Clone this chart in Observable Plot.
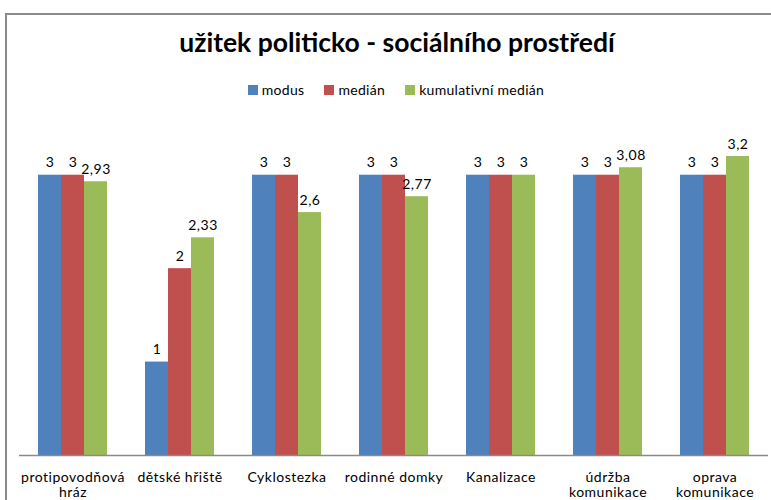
<!DOCTYPE html>
<html>
<head>
<meta charset="utf-8">
<script src="https://cdn.jsdelivr.net/npm/d3@7"></script>
<script src="https://cdn.jsdelivr.net/npm/@observablehq/plot@0.6"></script>
<style>
  html, body { margin: 0; padding: 0; background: #fff; }
  #wrap { position: relative; width: 771px; height: 500px; overflow: hidden; font-family: Lato, "Open Sans", sans-serif; }
  #frame { position: absolute; left: 5px; top: 13px; width: 900px; height: 600px; border-left: 2px solid #8a8a8a; border-top: 2px solid #8a8a8a; }
  #title { position: absolute; left: 0; width: 794px; top: 26px; text-align: center; font-weight: bold; font-size: 26.5px; color: #000; }
  #legend { position: absolute; left: 0; width: 792px; top: 81px; text-align: center; font-size: 14px; letter-spacing: 0.3px; color: #000; }
  #legend span.item { margin: 0 10px; }
  #legend span.sw { display: inline-block; width: 10px; height: 10px; margin-right: 4px; }
  #chart { position: absolute; left: 0; top: 0; }
</style>
</head>
<body>
<div id="wrap">
  <div id="frame"></div>
  <div id="chart"></div>
  <div id="title">užitek politicko - sociálního prostředí</div>
  <div id="legend"></div>
</div>
<script>
const categories = ["protipovodňová hráz", "dětské hřiště", "Cyklostezka", "rodinné domky", "Kanalizace", "údržba komunikace", "oprava komunikace"];
const tickLabels = ["protipovodňová\nhráz", "dětské hřiště", "Cyklostezka", "rodinné domky", "Kanalizace", "údržba\nkomunikace", "oprava\nkomunikace"];
const series = ["modus", "medián", "kumulativní medián"];
const modus = [3, 1, 3, 3, 3, 3, 3];
const median = [3, 2, 3, 3, 3, 3, 3];
const kumulativniMedian = [2.93, 2.33, 2.6, 2.77, 3, 3.08, 3.2];
const colors = ["#4F81BD", "#C0504D", "#9BBB59"];

const seriesValues = [modus, median, kumulativniMedian];
const data = [];
categories.forEach((c, i) => {
  series.forEach((s, j) => data.push({cat: c, series: s, value: seriesValues[j][i]}));
});
const fmt = v => String(v).replace(".", ",");

const chart = Plot.plot({
  width: 771,
  height: 500,
  marginLeft: 19,
  marginRight: 3,
  marginTop: 128,
  marginBottom: 45,
  style: {fontFamily: "Lato, 'Open Sans', sans-serif", fontSize: "14px", letterSpacing: "0.5px", background: "transparent", color: "#000"},
  fx: {domain: categories, padding: 0, label: null},
  x: {domain: series, axis: null, paddingInner: 0, paddingOuter: 0.73},
  y: {domain: [0, 3.5], axis: null},
  color: {domain: series, range: colors},
  marks: [
    Plot.barY(data, {fx: "cat", x: "series", y: "value", fill: "series"}),
    Plot.ruleY([0], {stroke: "#8a8a8a", strokeWidth: 1.5}),
    Plot.text(data, {fx: "cat", x: "series", y: "value", text: d => fmt(d.value), dy: -8, lineAnchor: "bottom", fill: "#000"}),
    Plot.axisFx({anchor: "bottom", tickSize: 0, tickPadding: 15, lineHeight: 1.12, label: null, fill: "#000",
                 tickFormat: d => tickLabels[categories.indexOf(d)]})
  ]
});
document.getElementById("chart").appendChild(chart);

const legend = document.getElementById("legend");
series.forEach((s, j) => {
  const item = document.createElement("span");
  item.className = "item";
  const sw = document.createElement("span");
  sw.className = "sw";
  sw.style.background = colors[j];
  item.appendChild(sw);
  item.appendChild(document.createTextNode(s));
  legend.appendChild(item);
});
</script>
</body>
</html>
